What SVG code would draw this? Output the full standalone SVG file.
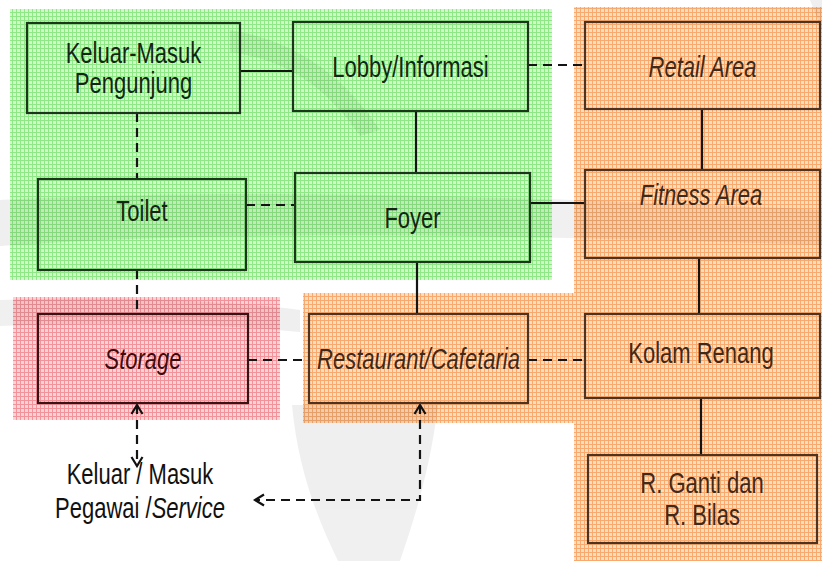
<svg xmlns="http://www.w3.org/2000/svg" width="822" height="561" viewBox="0 0 822 561">
  <defs>
    <!-- grid textures for the three zones -->
    <pattern id="gridGreen" width="4" height="4" patternUnits="userSpaceOnUse">
      <rect width="4" height="4" fill="#d2f7c9"/>
      <rect width="4" height="1" fill="#8ee886"/>
      <rect width="1" height="4" fill="#8ee886"/>
    </pattern>
    <pattern id="gridOrange" width="4" height="4" patternUnits="userSpaceOnUse">
      <rect width="4" height="4" fill="#fddcbf"/>
      <rect width="4" height="1" fill="#f7a96e"/>
      <rect width="1" height="4" fill="#f7a96e"/>
    </pattern>
    <pattern id="gridPink" width="4" height="4" patternUnits="userSpaceOnUse">
      <rect width="4" height="4" fill="#fdd2d2"/>
      <rect width="4" height="1" fill="#f2929a"/>
      <rect width="1" height="4" fill="#f2929a"/>
    </pattern>
    <marker id="chev" viewBox="0 0 14 14" refX="12" refY="7" markerWidth="14" markerHeight="14" markerUnits="userSpaceOnUse" orient="auto-start-reverse">
      <path d="M3,1.5 L12,7 L3,12.5" fill="none" stroke="#111" stroke-width="2.2"/>
    </marker>
    <style>
      .box { stroke-width: 2.2; }
      .g .box { fill: none; stroke: #1c361c; }
      .o .box { fill: none; stroke: #4e3420; }
      .p .box { fill: none; stroke: #3a1214; }
      text { font-family: "Liberation Sans", Arial, sans-serif; font-size: 22px; text-anchor: middle; }
      .g text { fill: #132613; }
      .o text { fill: #3d2a1c; }
      .p text { fill: #3a0c10; }
      .it { font-style: italic; }
      .line { fill: none; stroke: #141414; stroke-width: 2.2; }
      .dash { stroke-dasharray: 9 6; }
      .free text { fill: #111; }
    </style>
  </defs>

  <rect width="822" height="561" fill="#ffffff"/>

  <!-- zones -->
  <g id="zones">
    <rect x="10" y="9" width="542" height="271" fill="url(#gridGreen)"/>
    <rect x="574" y="7" width="248" height="554" fill="url(#gridOrange)"/>
    <rect x="303" y="293" width="271" height="130" fill="url(#gridOrange)"/>
    <rect x="13" y="297" width="267" height="123" fill="url(#gridPink)"/>
  </g>

  <!-- faint background emblem -->
  <g id="emblem" fill="#000" opacity="0.06">
    <path d="M292,405 C298,470 318,520 338,561 L400,561 C414,520 430,470 438,405 Z"/>
    <path d="M0,200 C200,190 420,192 822,210 L822,245 C420,232 200,232 0,246 Z"/>
    <path d="M0,300 C120,296 220,300 300,310 L300,332 C220,324 120,322 0,326 Z"/>
    <path d="M230,30 C290,40 340,70 380,130 L360,136 C325,85 285,60 230,52 Z"/>
    <path d="M810,0 L822,0 L822,30 Z"/>
  </g>

  <!-- connectors -->
  <g id="connectors">
    <path class="line" d="M240,71 H293"/>
    <path class="line dash" d="M528,65 H585"/>
    <path class="line dash" d="M137,113 V179"/>
    <path class="line" d="M416,111 V173"/>
    <path class="line dash" d="M246,205 H295"/>
    <path class="line" d="M530,203 H585"/>
    <path class="line" d="M702,109 V170"/>
    <path class="line" d="M699,258 V314"/>
    <path class="line dash" d="M137,270 V314"/>
    <path class="line" d="M417,262 V314"/>
    <path class="line dash" d="M248,360 H309"/>
    <path class="line dash" d="M528,360 H585"/>
    <path class="line" d="M701,398 V455"/>
    <path class="line dash" d="M137,405 V466" marker-start="url(#chev)" marker-end="url(#chev)"/>
    <path class="line dash" d="M420,405 V500 H255" marker-start="url(#chev)" marker-end="url(#chev)"/>
  </g>

  <!-- nodes -->
  <g id="keluar-masuk-pengunjung" class="g">
    <rect class="box" x="27" y="23" width="213" height="90"/>
    <text transform="translate(133.5,63) scale(1,1.3)">Keluar-Masuk</text>
    <text transform="translate(133.5,93) scale(1,1.3)">Pengunjung</text>
  </g>
  <g id="lobby" class="g">
    <rect class="box" x="293" y="22" width="235" height="89"/>
    <text transform="translate(410.5,77) scale(1,1.3)">Lobby/Informasi</text>
  </g>
  <g id="toilet" class="g">
    <rect class="box" x="38" y="179" width="208" height="91"/>
    <text transform="translate(142,221) scale(1,1.3)">Toilet</text>
  </g>
  <g id="foyer" class="g">
    <rect class="box" x="295" y="173" width="235" height="89"/>
    <text transform="translate(412.5,228) scale(1,1.3)">Foyer</text>
  </g>
  <g id="retail" class="o">
    <rect class="box" x="585" y="22" width="235" height="87"/>
    <text class="it" transform="translate(702.5,77) scale(1,1.3)">Retail Area</text>
  </g>
  <g id="fitness" class="o">
    <rect class="box" x="585" y="170" width="235" height="88"/>
    <text class="it" transform="translate(701,205) scale(1,1.3)">Fitness Area</text>
  </g>
  <g id="storage" class="p">
    <rect class="box" x="38" y="314" width="210" height="89"/>
    <text class="it" transform="translate(143,369) scale(1,1.3)">Storage</text>
  </g>
  <g id="restaurant" class="o">
    <rect class="box" x="309" y="314" width="219" height="89"/>
    <text class="it" transform="translate(418.5,369) scale(1,1.3)">Restaurant/Cafetaria</text>
  </g>
  <g id="kolam-renang" class="o">
    <rect class="box" x="585" y="314" width="235" height="84"/>
    <text transform="translate(701,363) scale(1,1.3)">Kolam Renang</text>
  </g>
  <g id="ruang-ganti" class="o">
    <rect class="box" x="588" y="455" width="229" height="88"/>
    <text transform="translate(702,493) scale(1,1.3)">R. Ganti dan</text>
    <text transform="translate(702,525) scale(1,1.3)">R. Bilas</text>
  </g>
  <g id="keluar-masuk-pegawai" class="free">
    <text transform="translate(140,484) scale(1,1.3)">Keluar / Masuk</text>
    <text transform="translate(140,518) scale(1,1.3)">Pegawai /<tspan class="it">Service</tspan></text>
  </g>
</svg>
